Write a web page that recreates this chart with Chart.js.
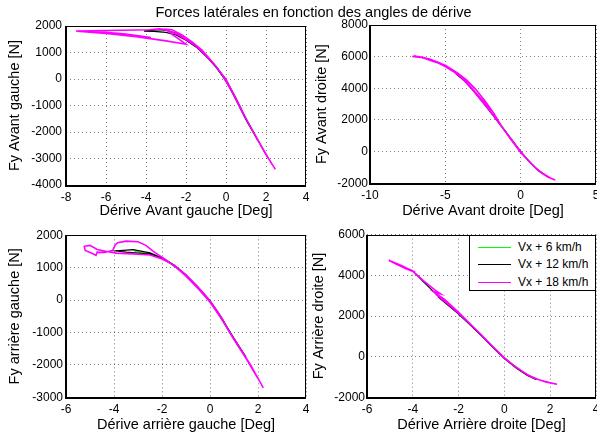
<!DOCTYPE html>
<html><head><meta charset="utf-8">
<script src="https://cdn.jsdelivr.net/npm/chart.js@4.4.1/dist/chart.umd.min.js"></script>
<style>
html,body{margin:0;padding:0;background:#fff;}
#wrap{position:relative;width:597px;height:438px;overflow:hidden;background:#fff;font-family:"Liberation Sans",Arial,sans-serif;color:#000;}
canvas{position:absolute;left:0;top:0;}
#title{position:absolute;left:0;width:627px;top:4px;text-align:center;font-size:14.5px;line-height:17px;white-space:nowrap;}
#legend{position:absolute;left:469px;top:235px;width:127px;height:56px;box-sizing:border-box;border:1px solid #000;background:#fff;font-size:12px;}
.li{position:absolute;left:0;width:126px;height:14px;}
.li span.ln{position:absolute;left:8px;width:33px;top:7px;height:1px;}
.li span.tx{position:absolute;left:48px;top:0;line-height:14px;white-space:nowrap;}
</style>
</head><body>
<div id="wrap">
<canvas id="c1" width="597" height="438"></canvas>
<canvas id="c2" width="597" height="438"></canvas>
<canvas id="c3" width="597" height="438"></canvas>
<canvas id="c4" width="597" height="438"></canvas>
<div id="title">Forces latérales en fonction des angles de dérive</div>
<div id="legend"></div>
</div>
<script>
// ---------- labels ----------
const seriesNames = ['Vx + 6 km/h', 'Vx + 12 km/h', 'Vx + 18 km/h'];
const seriesColors = ['#00ff00', '#000000', '#ff00ff'];
const mainTitle = 'Forces latérales en fonction des angles de dérive';

// ---------- Avant gauche (front left): [dérive deg, Fy N] ----------
const agGreen = [[1.4,-2050],[1,-1500],[0.5,-740],[0,-30],[-0.5,480],[-1,890],[-1.5,1250],[-2,1500],[-2.5,1720],[-3,1850],[-3.2,1880],[-2.8,1800],[-2.3,1650],[-1.8,1400],[-1.3,1100],[-0.8,720],[-0.3,260],[0.2,-330],[0.7,-1040],[1.2,-1790]];
const agBlack = [[2.1,-2980],[1.5,-2180],[1,-1500],[0.5,-740],[0,-30],[-0.5,480],[-1,890],[-1.5,1250],[-2,1500],[-2.5,1720],[-3,1840],[-3.5,1860],[-4.1,1810],[-3.6,1800],[-3,1760],[-2.5,1660],[-2,1460],[-1.5,1210],[-1,860],[-0.5,450],[0,-70],[0.5,-780],[1,-1540],[1.6,-2330]];
const agMagenta = [[2.47,-3410],[2,-2850],[1.5,-2180],[1,-1500],[0.5,-740],[0,-20],[-0.5,470],[-1,880],[-1.5,1240],[-2,1490],[-2.5,1710],[-3,1850],[-3.3,1890],[-3.8,1860],[-4.5,1850],[-6,1830],[-7.5,1810],[-6,1730],[-5,1660],[-3.75,1563],[-5,1700],[-6.5,1790],[-7.45,1800],[-6,1720],[-4.5,1600],[-3,1440],[-2,1311],[-2.3,1480],[-2.7,1680],[-3,1880],[-2.7,1860],[-2.2,1660],[-1.7,1400],[-1.2,1090],[-0.7,660],[-0.2,170],[0.3,-480],[0.8,-1230],[1.3,-1900],[1.8,-2580],[2.3,-3220]];

// ---------- Avant droite (front right) ----------
const adGreen = [[-3.6,4350],[-3.1,3800],[-2.6,3220],[-2.1,2640],[-1.6,2010],[-1.1,1390],[-0.6,750],[-0.1,120],[0.4,-450],[0.9,-960],[1.4,-1330],[0.9,-960],[0.4,-440],[-0.1,130],[-0.6,760],[-1.1,1400],[-1.6,2020],[-2.1,2650]];
const adBlack = [[-4.3,4920],[-3.8,4530],[-3.3,4030],[-2.8,3460],[-2.3,2860],[-1.8,2260],[-1.3,1640],[-0.8,1010],[-0.3,370],[0.2,-230],[0.7,-760],[1.2,-1200],[1.6,-1460],[1.1,-1130],[0.6,-660],[0.1,-120],[-0.4,500],[-0.9,1130],[-1.4,1760],[-1.9,2390],[-2.4,2980],[-2.9,3580],[-3.4,4140]];
const adMagenta = [[-7.2,6010],[-6.5,5930],[-6,5800],[-5.5,5620],[-5,5370],[-4.5,5080],[-4,4730],[-3.5,4250],[-3,3690],[-2.5,3100],[-2,2520],[-1.5,1880],[-1,1260],[-0.5,620],[0,0],[0.5,-560],[1,-1050],[1.5,-1400],[2,-1680],[2.3,-1790],[1.8,-1600],[1.2,-1230],[0.6,-650],[0,-60],[-0.6,700],[-1.2,1500],[-1.8,2450],[-2.4,3250],[-3,3950],[-3.6,4530],[-4.2,4980],[-4.8,5340],[-5.4,5620],[-6,5840],[-6.6,5970],[-7.1,6040],[-6.4,5900],[-5.8,5700],[-5,5460],[-4.3,5000],[-3.8,4600],[-3.2,3950],[-2.6,3300],[-2,2650]];

// ---------- arrière gauche (rear left) ----------
const rgGreen = [[1.3,-1550],[0.8,-980],[0.3,-330],[-0.2,150],[-0.7,540],[-1.2,900],[-1.7,1180],[-2.2,1350],[-2.7,1450],[-3.15,1510],[-2.8,1450],[-2.3,1380],[-1.8,1200],[-1.3,950],[-0.8,610],[-0.3,210],[0.2,-250],[0.7,-860],[1.2,-1420]];
const rgBlack = [[1.4,-1650],[1,-1200],[0.5,-560],[0,-20],[-0.5,400],[-1,780],[-1.5,1080],[-2,1300],[-2.5,1460],[-3.2,1560],[-3.92,1520],[-3.5,1480],[-3,1450],[-2.5,1420],[-2,1310],[-1.5,1070],[-1,770],[-0.5,390],[0,-40],[0.5,-580],[1,-1180],[1.5,-1760]];
const rgMagenta = [[2.22,-2710],[1.69,-2000],[1.2,-1430],[0.83,-1000],[0.4,-450],[0,-20],[-0.5,400],[-1,780],[-1.5,1080],[-2,1270],[-2.5,1390],[-3,1420],[-3.9,1450],[-4.3,1500],[-4.7,1560],[-5,1690],[-5.24,1660],[-5.2,1530],[-4.9,1440],[-4.75,1380],[-4.7,1480],[-4.4,1470],[-4.06,1530],[-3.95,1700],[-3.85,1770],[-3.5,1820],[-3,1800],[-2.67,1690],[-2.32,1480],[-1.83,1240],[-1.4,1000],[-1,740],[-0.5,360],[0,-60],[0.5,-600],[1,-1220],[1.5,-1800],[2,-2420]];

// ---------- Arrière droite (rear right) ----------
const rdGreen = [[-2.8,2950],[-2.3,2420],[-1.8,1920],[-1.3,1370],[-0.8,800],[-0.3,240],[0.2,-260],[0.7,-700],[1.2,-1000],[0.8,-760],[0.3,-330],[-0.2,160],[-0.7,720],[-1.2,1280],[-1.7,1820],[-2.2,2300]];
const rdBlack = [[-3.9,4100],[-3.5,3640],[-3,3100],[-2.5,2580],[-2,2130],[-1.5,1590],[-1,1040],[-0.5,470],[0,-80],[0.5,-530],[1,-910],[1.4,-1130],[1,-930],[0.5,-550],[0,-90],[-0.5,450],[-1,1020],[-1.5,1570],[-2,2100],[-2.5,2560],[-2.9,2950]];
const rdMagenta = [[-5,4720],[-4.5,4450],[-4.1,4280],[-3.9,4150],[-4.3,4330],[-4.8,4600],[-5.05,4740],[-4.5,4480],[-4,4200],[-3.5,3700],[-3,3250],[-2.8,3100],[-3.1,3200],[-2.6,2800],[-2,2180],[-1.5,1620],[-1,1060],[-0.5,490],[0,-60],[0.5,-510],[1,-890],[1.5,-1140],[2,-1290],[2.3,-1360],[1.8,-1250],[1.2,-1020],[0.6,-590],[0,-80],[-0.6,590],[-1.2,1280],[-1.8,1930],[-2.4,2520],[-3,3080]];

// ---------- axis ranges / ticks ----------
const agXTicks = [-8, 4, 2],  agYTicks = [-4000, 2000, 1000];
const adXTicks = [-10, 5, 5], adYTicks = [-2000, 8000, 2000];
const rgXTicks = [-6, 4, 2],  rgYTicks = [-3000, 2000, 1000];
const rdXTicks = [-6, 4, 2],  rdYTicks = [-2000, 6000, 2000];

Chart.defaults.font.family = '"Liberation Sans", Arial, Helvetica, sans-serif';
Chart.defaults.color = '#000';

const boxPlugin = {
  id: 'box',
  afterDraw(chart) {
    const ctx = chart.ctx, a = chart.chartArea;
    const l = Math.round(a.left), t = Math.round(a.top), r = Math.round(a.right), b = Math.round(a.bottom);
    ctx.save();
    ctx.strokeStyle = '#000';
    ctx.lineWidth = 1;
    ctx.strokeRect(l + 0.5, t + 0.5, r - l - 1, b - t);
    ctx.beginPath();
    ctx.moveTo(l - 0.5, t); ctx.lineTo(l - 0.5, b + 1.5);
    ctx.moveTo(l - 1, b + 1.5); ctx.lineTo(r, b + 1.5);
    ctx.stroke();
    ctx.restore();
  }
};

const TITLE_SIZE = 14.5;
const LH = TITLE_SIZE * 1.2;

function toXY(arr) { return arr.map(p => ({x: p[0], y: p[1]})); }
function fmt(v) { return String(v); }

function makeChart(id, c) {
  const yBoxLeft = c.yTitleX - LH / 2;
  const xBoxBottom = c.xTitleY + LH / 2;
  const widths = [1.2, 1.2, 1.6];
  const ds = c.series.map((s, i) => ({
    label: seriesNames[i], data: toXY(s), showLine: true, borderColor: seriesColors[i],
    backgroundColor: seriesColors[i], borderWidth: widths[i], pointRadius: 0, tension: 0,
    fill: false, order: 3 - i
  }));
  const gridStyle = {color: 'rgba(0,0,0,0.5)', lineWidth: 1, drawTicks: false};
  return new Chart(document.getElementById(id), {
    type: 'scatter',
    data: {datasets: ds},
    plugins: [boxPlugin],
    options: {
      responsive: false, animation: false, devicePixelRatio: 1,
      layout: {padding: {left: yBoxLeft, top: c.T, right: 597 - c.R, bottom: 438 - xBoxBottom}},
      plugins: {legend: {display: false}, tooltip: {enabled: false}, title: {display: false}},
      scales: {
        x: {
          type: 'linear', min: c.xt[0], max: c.xt[1],
          ticks: {stepSize: c.xt[2], autoSkip: false, maxRotation: 0, padding: 5, color: '#000', font: {size: 12}, callback: fmt},
          grid: gridStyle, border: {display: false, dash: [1, 3]},
          title: {display: true, text: c.xlabel, color: '#000', font: {size: TITLE_SIZE}, padding: 0},
          afterFit: s => { s.height = xBoxBottom - c.B; s.paddingLeft = 0; s.paddingRight = 0; }
        },
        y: {
          type: 'linear', min: c.yt[0], max: c.yt[1],
          ticks: {stepSize: c.yt[2], autoSkip: false, padding: c.ypad, color: '#000', font: {size: 12}, callback: fmt},
          grid: gridStyle, border: {display: false, dash: [1, 3]},
          title: {display: true, text: c.ylabel, color: '#000', font: {size: TITLE_SIZE}, padding: 0},
          afterFit: s => { s.width = c.L - yBoxLeft; s.paddingTop = 0; s.paddingBottom = 0; }
        }
      }
    }
  });
}

makeChart('c1', {L: 66, T: 26, R: 306, B: 185, yTitleX: 15, xTitleY: 210.7, ypad: 4,
  xt: agXTicks, yt: agYTicks, xlabel: 'Dérive Avant gauche [Deg]', ylabel: 'Fy Avant gauche [N]',
  series: [agGreen, agBlack, agMagenta]});
makeChart('c2', {L: 370, T: 25, R: 596, B: 183.3, yTitleX: 322, xTitleY: 210.7, ypad: 2,
  xt: adXTicks, yt: adYTicks, xlabel: 'Dérive Avant droite [Deg]', ylabel: 'Fy Avant droite [N]',
  series: [adGreen, adBlack, adMagenta]});
makeChart('c3', {L: 66, T: 235.3, R: 306, B: 397.3, yTitleX: 15, xTitleY: 424.7, ypad: 3,
  xt: rgXTicks, yt: rgYTicks, xlabel: 'Dérive arrière gauche [Deg]', ylabel: 'Fy arrière gauche [N]',
  series: [rgGreen, rgBlack, rgMagenta]});
makeChart('c4', {L: 367, T: 234.7, R: 596, B: 397.3, yTitleX: 318.7, xTitleY: 424.7, ypad: 2,
  xt: rdXTicks, yt: rdYTicks, xlabel: 'Dérive Arrière droite [Deg]', ylabel: 'Fy Arrière droite [N]',
  series: [rdGreen, rdBlack, rdMagenta]});

// legend (HTML text)
document.getElementById('title').textContent = mainTitle;
const leg = document.getElementById('legend');
const rowTops = [4, 21, 39];
seriesNames.forEach((n, i) => {
  const row = document.createElement('div');
  row.className = 'li';
  row.style.top = rowTops[i] + 'px';
  row.innerHTML = '<span class="ln" style="background:' + seriesColors[i] + '"></span><span class="tx"></span>';
  row.querySelector('.tx').textContent = n;
  leg.appendChild(row);
});
</script>
</body></html>
